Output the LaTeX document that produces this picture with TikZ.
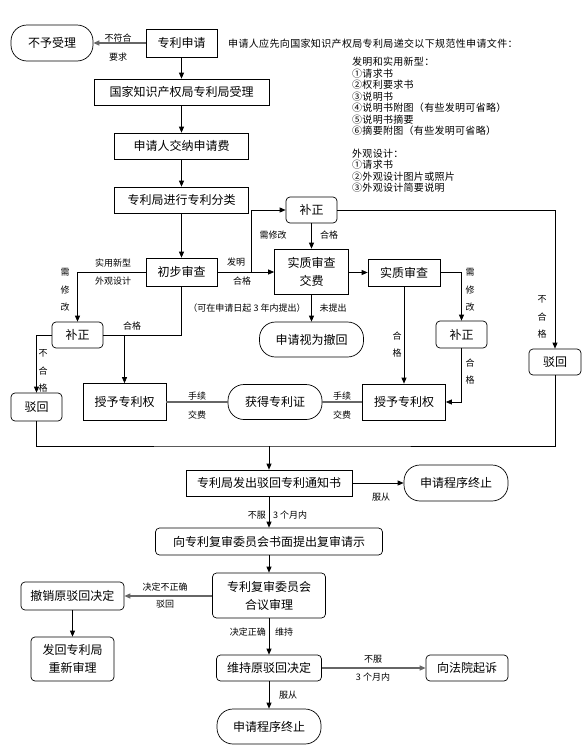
\documentclass[tikz,border=0pt]{standalone}
\usepackage{fontspec}
\setmainfont{Noto Sans CJK SC}
\usetikzlibrary{arrows.meta}
\begin{document}
\begin{tikzpicture}[x=1pt,y=-1pt,
  box/.style={draw, line width=0.7pt, fill=white, inner sep=0pt, align=center, font=\fontsize{12}{18}\selectfont},
  rbox/.style={box, rounded corners=4pt},
  sbox/.style={box, rounded corners=16pt},
  lbl/.style={inner sep=0pt, font=\fontsize{9}{10}\selectfont},
  vlbl/.style={inner sep=0pt, align=center, font=\fontsize{9}{17.5}\selectfont},
  ln/.style={line width=0.7pt},
  arr/.style={ln, -{Triangle[length=6pt,width=5pt]}},
  gln/.style={line width=1.1pt, black!60},
  garr/.style={gln, -{Triangle[length=6pt,width=5pt]}}
]
\useasboundingbox[fill=white] (0,0) rectangle (588,750);

% nodes
\node[sbox, minimum width=82, minimum height=36] (nosh) at (52,43) {不予受理};
\node[box, minimum width=71, minimum height=28] (apply) at (181.5,43) {专利申请};
\node[box, minimum width=175, minimum height=26] (accept) at (181.5,92) {国家知识产权局专利局受理};
\node[box, minimum width=134, minimum height=26] (fee) at (181.5,146) {申请人交纳申请费};
\node[box, minimum width=134, minimum height=26] (classify) at (181.5,200) {专利局进行专利分类};
\node[box, minimum width=71, minimum height=28] (prelim) at (181.5,272) {初步审查};
\node[rbox, minimum width=51, minimum height=26] (fixT) at (311.5,210) {补正};
\node[box, minimum width=74, minimum height=45] (subfee) at (311.5,271.5) {实质审查\\交费};
\node[box, minimum width=72, minimum height=27] (subex) at (404,272.5) {实质审查};
\node[sbox, minimum width=104, minimum height=35] (withdraw) at (311.5,339.5) {申请视为撤回};
\node[rbox, minimum width=51, minimum height=27] (fixR) at (461.5,334.5) {补正};
\node[box, minimum width=83, minimum height=36] (grantR) at (404,402) {授予专利权};
\node[sbox, minimum width=94, minimum height=35] (cert) at (275,402) {获得专利证};
\node[box, minimum width=83, minimum height=37] (grantL) at (124.5,402) {授予专利权};
\node[rbox, minimum width=51, minimum height=26] (fixL) at (77.5,335) {补正};
\node[rbox, minimum width=51, minimum height=28] (rejL) at (36.5,407) {驳回};
\node[rbox, minimum width=52, minimum height=26] (rejR) at (555,362) {驳回};
\node[box, minimum width=166, minimum height=26] (notice) at (269,483) {专利局发出驳回专利通知书};
\node[sbox, minimum width=104, minimum height=36] (end1) at (456,483) {申请程序终止};
\node[rbox, minimum width=227, minimum height=27] (review) at (269,541.5) {向专利复审委员会书面提出复审请示};
\node[rbox, minimum width=113, minimum height=45] (board) at (269,595.5) {专利复审委员会\\合议审理};
\node[rbox, minimum width=103, minimum height=28] (revoke) at (72.5,596) {撤销原驳回决定};
\node[rbox, minimum width=83, minimum height=44] (back) at (72.5,659) {发回专利局\\重新审理};
\node[rbox, minimum width=105, minimum height=26] (keep) at (269,668) {维持原驳回决定};
\node[rbox, minimum width=82, minimum height=26] (court) at (467,668) {向法院起诉};
\node[sbox, minimum width=104, minimum height=35] (end2) at (269,726.5) {申请程序终止};

% header text
\node[inner sep=0pt, anchor=west, font=\fontsize{10}{11.5}\selectfont\addfontfeature{LetterSpace=3.5}] (hdr) at (228,44) {申请人应先向国家知识产权局专利局递交以下规范性申请文件：};
\node[inner sep=0pt, anchor=west, align=left, font=\fontsize{10}{11.45}\selectfont\addfontfeature{LetterSpace=3}] (docs) at (352,125) {发明和实用新型：\\①请求书\\②权利要求书\\③说明书\\④说明书附图（有些发明可省略）\\⑤说明书摘要\\⑥摘要附图（有些发明可省略）\\[11.45pt]外观设计：\\①请求书\\②外观设计图片或照片\\③外观设计简要说明};

% connectors top column
\draw[garr] (apply.west) -- (nosh.east);
\draw[arr] (apply) -- (accept);
\draw[arr] (accept) -- (fee);
\draw[arr] (fee) -- (classify);
\draw[arr] (classify) -- (prelim);

% invention branch
\coordinate (j1) at (251,272);
\draw[arr] (prelim.east) -- (prelim.east -| subfee.west);
\draw[arr] (j1) |- (fixT.west);
\draw[arr] (fixT.south) -- (fixT.south |- subfee.north);
\draw[arr] (fixT.east) -| (rejR.north);
\draw[arr] (subfee.east |- subex.west) -- (subex.west);
\draw[arr] (subfee.south) -- (withdraw.north);
\draw[arr] (subex.east) -| (fixR.north);
\draw[arr] (subex.south) -- (subex.south |- grantR.north);
\draw[arr] (fixR.south) |- (grantR.east);
\draw[gln] (cert.east) -- (grantR.west);
\draw[gln] (grantL.east) -- (cert.west);

% utility / design branch
\draw[arr] (prelim.west) -| (fixL.north);
\draw[ln] (prelim.south) |- (fixL.east);
\coordinate (j2) at (124.5,335);
\draw[arr] (j2) -- (grantL.north);
\draw[arr] (fixL.west) -| (rejL.north);

% rejection merge
\coordinate (j3) at (269,446);
\draw[ln] (rejL.south) |- (j3) -| (rejR.south);
\draw[arr] (j3) -- (notice.north);
\draw[arr] (notice.east) -- (notice.east -| end1.west);
\draw[arr] (notice.south) -- (review.north);
\draw[arr] (review.south) -- (board.north);
\draw[garr] (board.west |- revoke.east) -- (revoke.east);
\draw[arr] (revoke.south) -- (back.north);
\draw[arr] (board.south) -- (keep.north);
\draw[garr] (keep.east) -- (court.west);
\draw[arr] (keep.south) -- (end2.north);

% labels
\node[lbl] (l1) at (118,38) {不符合};
\node[lbl] (l2) at (118,57) {要求};
\node[lbl] (l3) at (273,235) {需修改};
\node[lbl] (l4) at (329,235) {合格};
\node[lbl] (l5) at (236,262) {发明};
\node[lbl] (l6) at (242,281) {合格};
\node[lbl] (l7) at (113,263) {实用新型};
\node[lbl] (l8) at (113,281) {外观设计};
\node[vlbl] (l9) at (65,290) {需\\修\\改};
\node[lbl] (l10) at (132,326) {合格};
\node[vlbl] (l11) at (43,371) {不\\合\\格};
\node[lbl] (l12) at (247,308) {（可在申请日起 3 年内提出）};
\node[lbl] (l13) at (333,308) {未提出};
\node[vlbl] (l14) at (470,290) {需\\修\\改};
\node[vlbl] (l15) at (397,344.5) {合\\格};
\node[vlbl] (l16) at (470,371.5) {合\\格};
\node[vlbl] (l17) at (542,317) {不\\合\\格};
\node[lbl] (l18) at (197,396) {手续};
\node[lbl] (l19) at (197,415) {交费};
\node[lbl] (l20) at (342,396) {手续};
\node[lbl] (l21) at (342,415) {交费};
\node[lbl] (l22) at (381,497) {服从};
\node[lbl, anchor=east] (l23) at (266,515) {不服};
\node[lbl, anchor=west] (l24) at (273,515) {3 个月内};
\node[lbl] (l25) at (165,587) {决定不正确};
\node[lbl] (l26) at (165,604) {驳回};
\node[lbl, anchor=east] (l27) at (266,632) {决定正确};
\node[lbl, anchor=west] (l28) at (275,632) {维持};
\node[lbl] (l29) at (373,659) {不服};
\node[lbl] (l30) at (373,677) {3 个月内};
\node[lbl] (l31) at (288,695) {服从};
\end{tikzpicture}
\end{document}
